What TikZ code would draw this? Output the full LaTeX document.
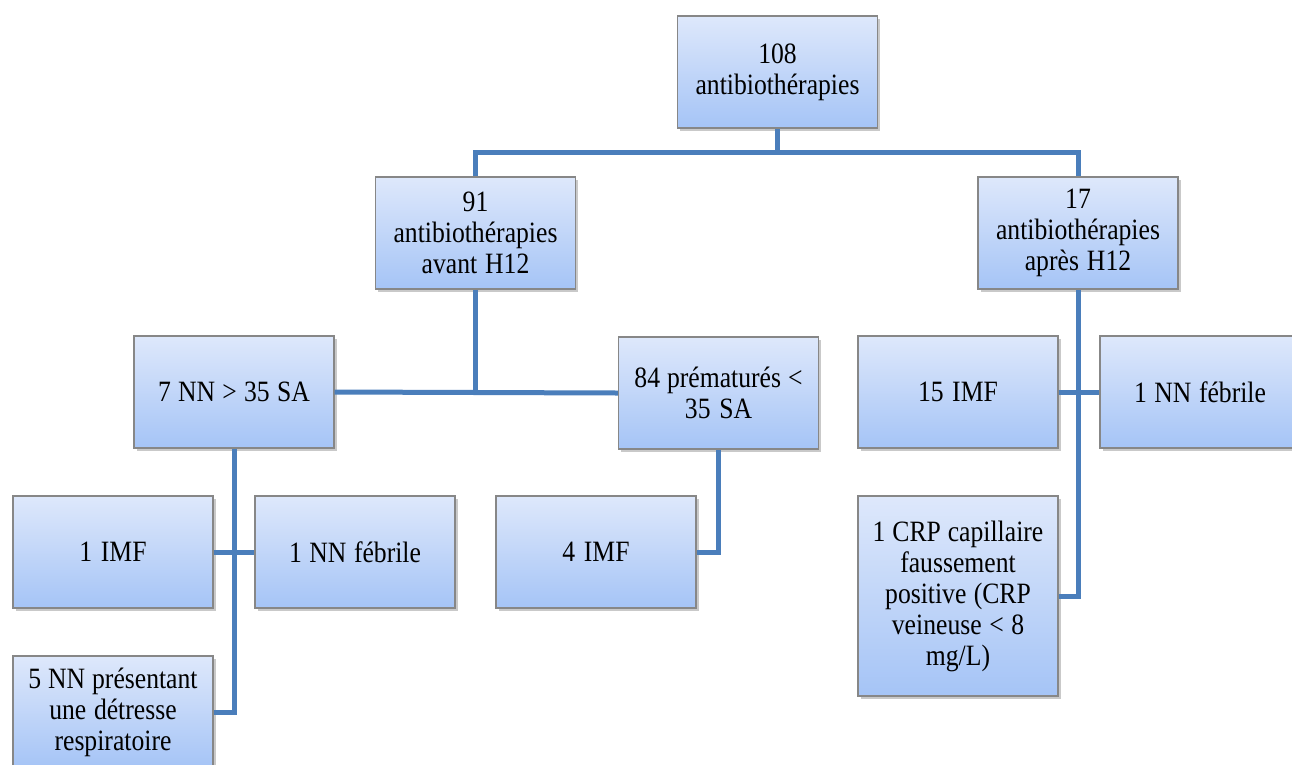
\documentclass[tikz,border=0pt]{standalone}
\usepackage{fontspec}
\setmainfont[FakeStretch=0.87]{Liberation Serif}
\usetikzlibrary{shadows}
\definecolor{linkblue}{RGB}{74,126,187}
\definecolor{boxtop}{RGB}{222,232,251}
\definecolor{boxbot}{RGB}{165,196,246}
\definecolor{boxedge}{RGB}{135,135,135}
\tikzset{
  flowbox/.style={rectangle, draw=boxedge, line width=1.3pt, top color=boxtop, bottom color=boxbot,
    minimum width=200pt, minimum height=112pt, text width=194pt, align=center, inner sep=0pt,
    font=\fontsize{29.5pt}{31pt}\selectfont,
    execute at begin node={\spaceskip=6.5pt plus 2pt minus 1pt\relax},
    drop shadow={shadow xshift=2.5pt, shadow yshift=-3pt, opacity=0.35, fill=black!60}},
  link/.style={draw=linkblue, line width=5pt, line join=miter}
}
\begin{document}
\begin{tikzpicture}[x=1pt, y=-1pt]
\useasboundingbox (0,0) rectangle (1292,764);
\clip (0,0) rectangle (1292,764);
\fill[white] (0,0) rectangle (1292,764);
\node[flowbox] (top) at (777.5,72) {108\\antibiothérapies};
\node[flowbox] (a91) at (475.5,233) {91\\antibiothérapies\\avant H12};
\node[flowbox] (a17) at (1078,233) {17\\antibiothérapies\\après H12};
\node[flowbox] (nn7) at (234,392) {7 NN > 35 SA};
\node[flowbox] (p84) at (718.5,393) {84 prématurés <\\35 SA};
\node[flowbox] (imf15) at (958,392) {15 IMF};
\node[flowbox] (nnf2) at (1200,392) {1 NN fébrile};
\node[flowbox] (imf1) at (113,552) {1 IMF};
\node[flowbox] (nnf1) at (355,552) {1 NN fébrile};
\node[flowbox] (imf4) at (596,552) {4 IMF};
\node[flowbox, minimum height=200pt] (crp) at (958,596) {1 CRP capillaire\\faussement\\positive (CRP\\veineuse < 8\\mg/L)};
\node[flowbox] (nn5) at (113,712) {5 NN présentant\\une détresse\\respiratoire};
\coordinate (j1) at (777.5,152);
\coordinate (j2) at (475.5,392);
\draw[link] (top.south) -- (j1);
\draw[link] (a91.north) |- (j1) -| (a17.north);
\draw[link] (a91.south) -- (j2);
\draw[link] (nn7.east) -- (p84.west);
\draw[link] (a17.south) |- (crp.east);
\draw[link] (imf15.east) -- (nnf2.west);
\draw[link] (nn7.south) |- (nn5.east);
\draw[link] (imf1.east) -- (nnf1.west);
\draw[link] (p84.south) |- (imf4.east);
\end{tikzpicture}
\end{document}
